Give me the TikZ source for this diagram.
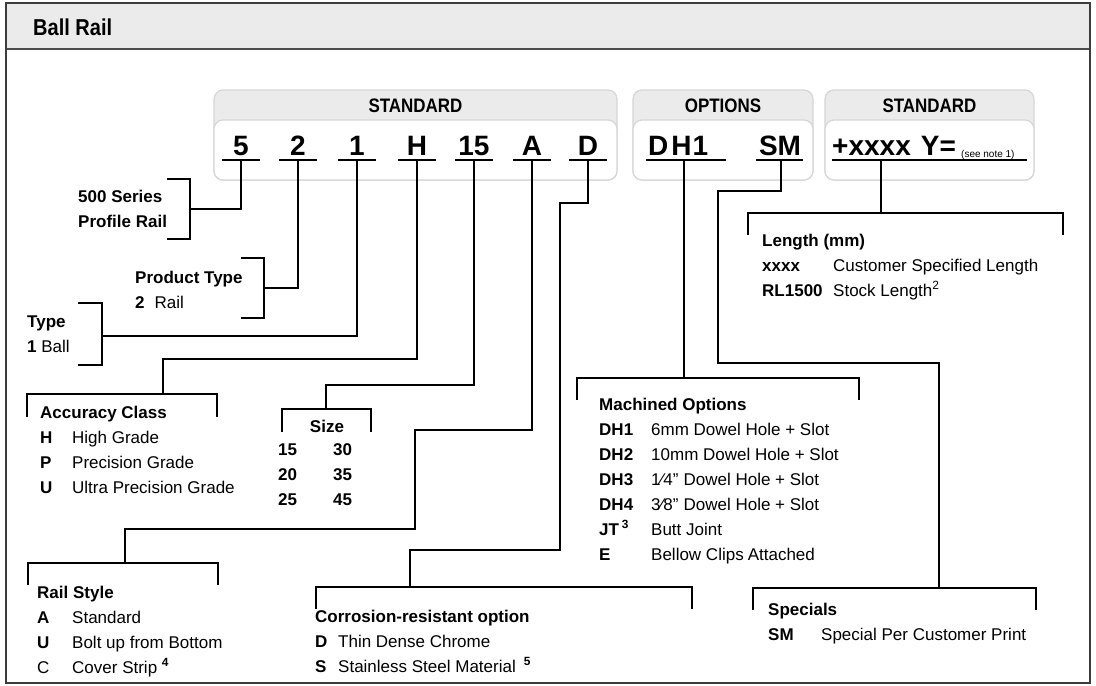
\documentclass[tikz,border=0pt]{standalone}
\usepackage{fontspec}
\setmainfont{Liberation Sans}
\newfontfamily\narrowfont{Liberation Sans}[FakeStretch=0.87]
\usetikzlibrary{positioning, calc}
\definecolor{bandColor}{RGB}{235, 235, 235}
\definecolor{edgeColor}{RGB}{214, 214, 214}
\definecolor{frameColor}{RGB}{60, 60, 60}
\newcommand{\headfont}{\fontsize{23}{27}\selectfont\narrowfont\bfseries}
\newcommand{\boxfont}{\fontsize{19.5}{24}\selectfont\narrowfont\bfseries}
\newcommand{\codefont}{\fontsize{28}{34}\selectfont\bfseries}
\newcommand{\notefont}{\fontsize{10}{12}\selectfont}
\newcommand{\titlefont}{\fontsize{17}{25}\selectfont\bfseries}
\newcommand{\itemfont}{\fontsize{17}{25}\selectfont\mdseries}
\tikzstyle{band} = [rounded corners=9pt, draw=edgeColor, line width=1.2pt, fill=bandColor]
\tikzstyle{slot} = [rounded corners=9pt, draw=edgeColor, line width=1.2pt, fill=white]
\tikzstyle{boxhead} = [font=\boxfont, anchor=base, inner sep=0pt]
\tikzstyle{code} = [font=\codefont, anchor=base, inner sep=0pt]
\tikzstyle{uline} = [draw=black, line width=1.5pt]
\tikzstyle{link} = [draw=black, line width=1.2pt]
\tikzstyle{sidetext} = [font=\titlefont, anchor=base west, inner sep=0pt]
\tikzstyle{keylist} = [font=\itemfont, anchor=base west, inner sep=0pt]

\begin{document}
\begin{tikzpicture}[x=1pt, y=-1pt]
				\useasboundingbox (0,0) rectangle (1096,686);
				\fill[bandColor] (6,3) rectangle (1090,49);
				\draw[gray!60!black, line width=1.2pt] (6,49) -- (1090,49);
				\draw[frameColor, line width=2.2pt] (6,3) rectangle (1090,683);
				\node[anchor=base west, font=\headfont, inner sep=0pt] (title) at (33,35) {Ball Rail};
				
				\draw[band] (214,90) rectangle (617,180);
				\draw[slot] (214,120) rectangle (617,180);
				\draw[band] (633,90) rectangle (813,180);
				\draw[slot] (633,120) rectangle (813,180);
				\draw[band] (825,90) rectangle (1034,180);
				\draw[slot] (825,120) rectangle (1034,180);
				\node[boxhead] (hStd) at (415.5,112) {STANDARD};
				\node[boxhead] (hOpt) at (723,112) {OPTIONS};
				\node[boxhead] (hLen) at (929.5,112) {STANDARD};
				
				\node[code] (c5) at (241,155) {5};
				\node[code] (c2) at (298,155) {2};
				\node[code] (c1) at (357,155) {1};
				\node[code] (cH) at (417,155) {H};
				\node[code] (c15) at (474,155) {15};
				\node[code] (cA) at (532,155) {A};
				\node[code] (cD) at (588,155) {D};
				\node[code, anchor=base west] (cDH) at (648,155) {D\kern3pt H\kern1pt 1};
				\node[code] (cSM) at (780,155) {SM};
				\node[code, anchor=base west] (cLen) at (832,155) {+xxxx\hspace{10pt}Y=};
				\node[anchor=base west, font=\notefont, inner sep=0pt] (cNote) at (961,157) {(see note 1)};
				
				\draw[uline] (222,160) -- (260,160);
				\draw[uline] (279,160) -- (317,160);
				\draw[uline] (338,160) -- (376,160);
				\draw[uline] (398,160) -- (436,160);
				\draw[uline] (455,160) -- (493,160);
				\draw[uline] (513,160) -- (551,160);
				\draw[uline] (569,160) -- (607,160);
				\draw[uline] (646,160) -- (726,160);
				\draw[uline] (756,160) -- (803,160);
				\draw[uline] (832,160) -- (1027,160);
				
				\coordinate (u5) at (241,160);
				\coordinate (u2) at (298,160);
				\coordinate (u1) at (357,160);
				\coordinate (uH) at (417,160);
				\coordinate (u15) at (474,160);
				\coordinate (uA) at (532,160);
				\coordinate (uD) at (588,160);
				\coordinate (uDH) at (684,160);
				\coordinate (uSM) at (781,160);
				\coordinate (uLen) at (881,160);
				
				\node[sidetext] (tSeries) at (78,202) {\begin{tabular}[t]{@{}l@{}}500 Series\\Profile Rail\end{tabular}};
				\node[sidetext] (tProduct) at (135,283) {\begin{tabular}[t]{@{}l@{}}Product Type\\\textbf{2}\itemfont\hspace{10pt}Rail\end{tabular}};
				\node[sidetext] (tType) at (27,327) {\begin{tabular}[t]{@{}l@{}}Type\\\textbf{1} \itemfont Ball\end{tabular}};
				
				\node[keylist] (tAccuracy) at (40,418) {\begin{tabular}[t]{@{}p{32pt}@{}l@{}}
					\multicolumn{2}{@{}l@{}}{\titlefont Accuracy Class}\\
					\textbf{H} & High Grade\\
					\textbf{P} & Precision Grade\\
					\textbf{U} & Ultra Precision Grade
				\end{tabular}};
				\node[sidetext, anchor=base] (tSize) at (327,432) {Size};
				\node[keylist] (tSizes) at (278,455) {\begin{tabular}[t]{@{}p{55pt}@{}l@{}}
					\textbf{15} & \textbf{30}\\
					\textbf{20} & \textbf{35}\\
					\textbf{25} & \textbf{45}
				\end{tabular}};
				\node[keylist] (tRail) at (37,598) {\begin{tabular}[t]{@{}p{35pt}@{}l@{}}
					\multicolumn{2}{@{}l@{}}{\titlefont Rail Style}\\
					\textbf{A} & Standard\\
					\textbf{U} & Bolt up from Bottom\\
					C & Cover Strip \textsuperscript{\bfseries 4}
				\end{tabular}};
				\node[keylist] (tCorr) at (315,622) {\begin{tabular}[t]{@{}p{23pt}@{}l@{}}
					\multicolumn{2}{@{}l@{}}{\titlefont Corrosion-resistant option}\\
					\textbf{D} & Thin Dense Chrome\\
					\textbf{S} & Stainless Steel Material\hspace{8pt}\textsuperscript{\bfseries 5}
				\end{tabular}};
				\node[keylist] (tMach) at (599,410) {\begin{tabular}[t]{@{}p{52pt}@{}l@{}}
					\multicolumn{2}{@{}l@{}}{\titlefont Machined Options}\\
					\textbf{DH1} & 6mm Dowel Hole + Slot\\
					\textbf{DH2} & 10mm Dowel Hole + Slot\\
					\textbf{DH3} & 1⁄4”\hspace{5pt}Dowel Hole + Slot\\
					\textbf{DH4} & 3⁄8”\hspace{5pt}Dowel Hole + Slot\\
					\textbf{JT}\,\textsuperscript{\bfseries 3} & Butt Joint\\
					\textbf{E} & Bellow Clips\hspace{4pt}Attached
				\end{tabular}};
				\node[keylist] (tLen) at (762,246) {\begin{tabular}[t]{@{}p{71pt}@{}l@{}}
					\multicolumn{2}{@{}l@{}}{\titlefont Length (mm)}\\
					\textbf{xxxx} & Customer Specified Length\\
					\textbf{RL1500} & Stock Length\textsuperscript{2}
				\end{tabular}};
				\node[keylist] (tSpec) at (768,615) {\begin{tabular}[t]{@{}p{53pt}@{}l@{}}
					\multicolumn{2}{@{}l@{}}{\titlefont Specials}\\
					\textbf{SM} & Special Per Customer Print
				\end{tabular}};
				
				\coordinate (bSeries) at (190,209);
				\coordinate (bProduct) at (264,288);
				\coordinate (bType) at (102,336);
				\coordinate (bAccuracy) at (163,394);
				\coordinate (bSize) at (326,409);
				\coordinate (bRail) at (125,563);
				\coordinate (bCorr) at (410,587);
				\coordinate (bMach) at (684,378);
				\coordinate (bSpec) at (939,588);
				\coordinate (bLen) at (881,213);
				
				\draw[link] (167,179) -| (190,239) -- (167,239);
				\draw[link] (241,258) -| (264,318) -- (241,318);
				\draw[link] (78,303) -| (102,365) -- (78,365);
				\draw[link] (27,417) |- (217,394) -- (217,417);
				\draw[link] (282,432) |- (371,409) -- (371,432);
				\draw[link] (28,585) |- (218,563) -- (218,585);
				\draw[link] (316,609) |- (692,587) -- (692,609);
				\draw[link] (577,400) |- (859,378) -- (859,400);
				\draw[link] (753,610) |- (1036,588) -- (1036,610);
				\draw[link] (748,235) |- (1063,213) -- (1063,235);
				
				\draw[link] (u5) |- (bSeries);
				\draw[link] (u2) |- (bProduct);
				\draw[link] (u1) |- (bType);
				\draw[link] (uH) -- ++(0,199) -| (bAccuracy);
				\draw[link] (u15) -- ++(0,225) -| (bSize);
				\draw[link] (uA) -- ++(0,270) -| (415,529) -| (bRail);
				\draw[link] (uD) -- ++(0,43) -| (560,550) -| (bCorr);
				\draw[link] (uDH) -- (bMach);
				\draw[link] (uSM) -- ++(0,31) -| (718,363) -| (bSpec);
				\draw[link] (uLen) -- (bLen);
			\end{tikzpicture}
\end{document}
